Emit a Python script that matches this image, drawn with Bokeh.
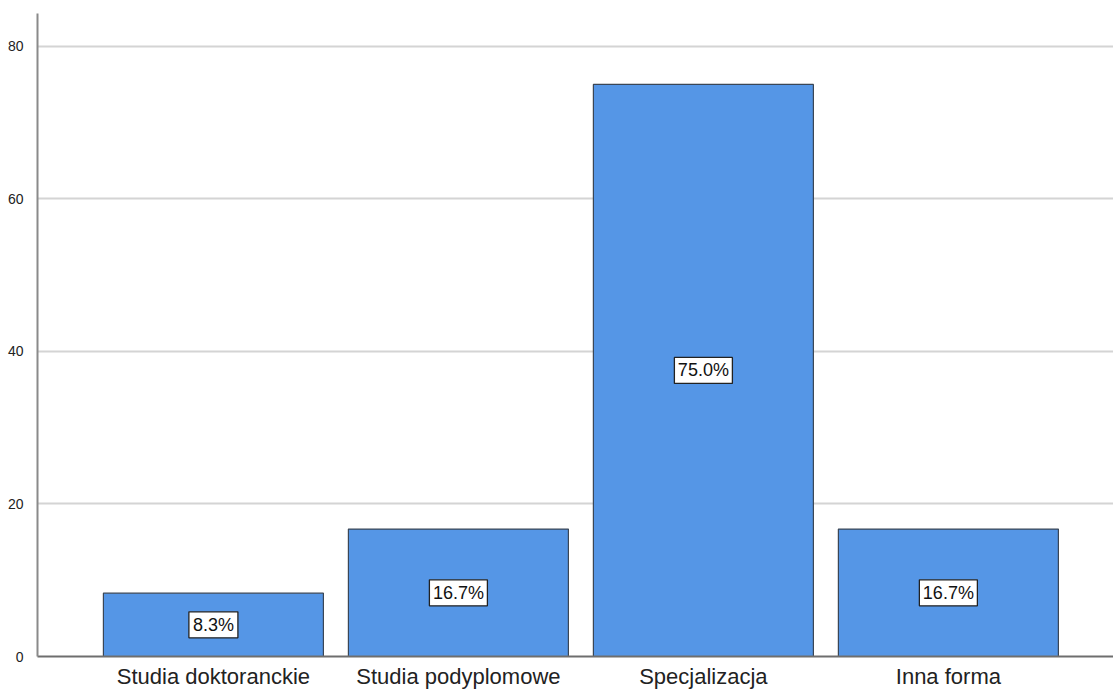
from bokeh.plotting import figure
from bokeh.models import ColumnDataSource, Range1d, FixedTicker
from bokeh.core.properties import value
from bokeh.embed import file_html
from bokeh.resources import INLINE

categories = ["Studia doktoranckie", "Studia podyplomowe", "Specjalizacja", "Inna forma"]
values = [8.3, 16.7, 75.0, 16.7]
y_ticks = [0, 20, 40, 60, 80]

xs = list(range(len(categories)))
labels = [f"{v:.1f}%" for v in values]
src = ColumnDataSource(dict(
    x=xs,
    top=values,
    mid=[v / 2 for v in values],
    label=labels,
    boxw=[9 * len(s) + 13 for s in labels],
))

p = figure(width=1113, height=691, output_backend="svg", toolbar_location=None,
           x_range=Range1d(-0.718, 3.674), y_range=Range1d(0, 84.3),
           min_border_left=37, min_border_top=13, min_border_right=0, min_border_bottom=34)
p.outline_line_color = None
p.background_fill_color = "white"
p.border_fill_color = "white"

p.vbar(x="x", top="top", bottom=0, width=0.898, source=src,
       fill_color="#5596e6", line_color="#3a4656", line_width=1.2)

p.rect(x="x", y="mid", width="boxw", height=26, width_units="screen", height_units="screen",
       source=src, fill_color="white", line_color="#222222", line_width=1.3)
p.text(x="x", y="mid", text="label", source=src, text_align="center", text_baseline="middle",
       text_font=value("Liberation Sans"), text_font_size="18px", text_color="#111111")

# x axis
p.xaxis.ticker = FixedTicker(ticks=xs)
p.xaxis.major_label_overrides = {i: c for i, c in enumerate(categories)}
p.xaxis.major_label_text_font = "Liberation Sans"
p.xaxis.major_label_text_font_size = "22px"
p.xaxis.major_label_text_color = "#222222"
p.xaxis.major_tick_line_color = None
p.xaxis.minor_tick_line_color = None
p.xaxis.axis_line_color = "#6e6e6e"
p.xaxis.axis_line_width = 2
p.xaxis.major_label_standoff = 1

# y axis
p.yaxis.ticker = FixedTicker(ticks=y_ticks)
p.yaxis.major_label_text_font = "Liberation Sans"
p.yaxis.major_label_text_font_size = "14px"
p.yaxis.major_label_text_color = "#222222"
p.yaxis.major_tick_line_color = None
p.yaxis.minor_tick_line_color = None
p.yaxis.axis_line_color = "#8a8a8a"
p.yaxis.axis_line_width = 2
p.yaxis.major_label_standoff = 8

p.xgrid.grid_line_color = None
p.ygrid.grid_line_color = "#d4d4d4"
p.ygrid.grid_line_width = 2

open("out.html", "w").write(file_html(p, INLINE))
